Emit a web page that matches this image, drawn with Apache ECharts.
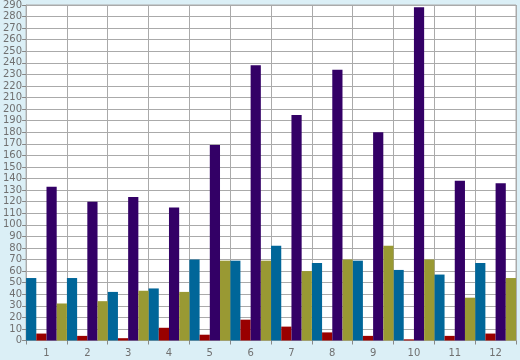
<!DOCTYPE html>
<html><head><meta charset="utf-8">
<script src="https://cdn.jsdelivr.net/npm/echarts@6/dist/echarts.min.js"></script>
<style>html,body{margin:0;padding:0;background:#dbeff6;}#c{width:520px;height:360px;}</style>
</head><body><div id="c"></div>
<script>
const categories = ['1','2','3','4','5','6','7','8','9','10','11','12'];
const blueVals   = [54, 54, 42, 45, 70, 69, 82, 67, 69, 61, 57, 67];
const redVals    = [6, 4, 2, 11, 5, 18, 12, 7, 4, 1, 4, 6];
const purpleVals = [133, 120, 124, 115, 169, 238, 195, 234, 180, 288, 138, 136];
const oliveVals  = [32, 34, 43, 42, 69, 69, 60, 70, 82, 70, 37, 54];

const chart = echarts.init(document.getElementById('c'), null, {renderer:'canvas'});
const lab = {color:'#707070', fontFamily:'DejaVu Sans', fontSize:10};
function s(name, data, color){
  return {name, type:'bar', data, barGap:'0%', barCategoryGap:'0%', itemStyle:{color}, animation:false};
}
chart.setOption({
  backgroundColor:'#dbeff6',
  animation:false,
  grid:{left:26, right:4, top:5, bottom:19.5, show:true, backgroundColor:'#ffffff', borderColor:'#aaaaaa', borderWidth:1},
  xAxis:{type:'category', data:categories, boundaryGap:true,
    axisLine:{lineStyle:{color:'#aaaaaa'}},
    axisTick:{show:true, length:4, lineStyle:{color:'#888888'}},
    axisLabel:Object.assign({margin:8}, lab),
    splitLine:{show:true, lineStyle:{color:'#aaaaaa', width:1}}},
  yAxis:{type:'value', min:0, max:290, interval:10,
    axisLine:{show:true, lineStyle:{color:'#aaaaaa'}},
    axisTick:{show:true, length:4, lineStyle:{color:'#888888'}},
    axisLabel:Object.assign({margin:4}, lab),
    splitLine:{show:true, lineStyle:{color:'#aaaaaa', width:1}}},
  series:[
    s('blue', blueVals, '#006699'),
    s('red', redVals, '#990000'),
    s('purple', purpleVals, '#330066'),
    s('olive', oliveVals, '#999933')
  ]
});
</script></body></html>
